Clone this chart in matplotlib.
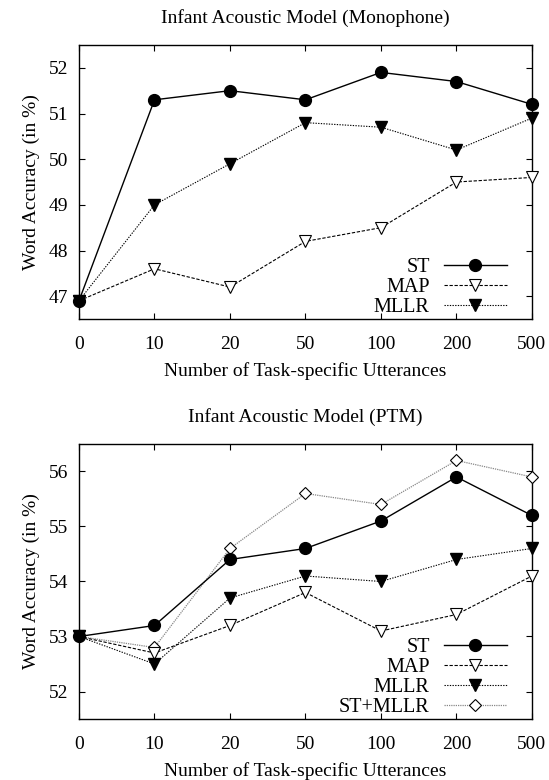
import matplotlib
matplotlib.use('Agg')
import matplotlib.pyplot as plt

plt.rcParams['font.family'] = 'Liberation Serif'

# x categories
x_labels = ['0', '10', '20', '50', '100', '200', '500']

# Monophone
mono_st = [46.9, 51.3, 51.5, 51.3, 51.9, 51.7, 51.2]
mono_map = [46.9, 47.6, 47.2, 48.2, 48.5, 49.5, 49.6]
mono_mllr = [46.9, 49.0, 49.9, 50.8, 50.7, 50.2, 50.9]

# PTM
ptm_st = [53.0, 53.2, 54.4, 54.6, 55.1, 55.9, 55.2]
ptm_map = [53.0, 52.7, 53.2, 53.8, 53.1, 53.4, 54.1]
ptm_mllr = [53.0, 52.5, 53.7, 54.1, 54.0, 54.4, 54.6]
ptm_st_mllr = [53.0, 52.8, 54.6, 55.6, 55.4, 56.2, 55.9]

fig = plt.figure(figsize=(5.49, 7.8), dpi=100)
ax1 = fig.add_axes([0.1439, 0.591, 0.825, 0.3513])
ax2 = fig.add_axes([0.1439, 0.0782, 0.825, 0.3526])

x = list(range(len(x_labels)))


def draw_series(ax, st, mp, ml, stml=None):
    ax.plot(x, st, '-', color='black', lw=1.0, marker='o', ms=8.5, mfc='black',
            label='ST', zorder=5, clip_on=False)
    ax.plot(x, mp, color='black', lw=0.8, ls=(0, (3, 1.5)), marker='v', ms=8, mfc='white', mew=0.8,
            label='MAP', zorder=4, clip_on=False)
    ax.plot(x, ml, color='black', lw=0.8, ls=(0, (1.2, 1.2)), marker='v', ms=8, mfc='black',
            label='MLLR', zorder=4, clip_on=False)
    if stml is not None:
        ax.plot(x, stml, color='#888888', lw=0.9, ls=(0, (1, 0.8)), marker='D', ms=6.5, mfc='white',
                mec='black', mew=0.8, label='ST+MLLR', zorder=3, clip_on=False)


def style(ax, title, ylim, yticks):
    ax.set_xlim(0, 6)
    ax.set_ylim(*ylim)
    ax.set_xticks(x)
    ax.set_xticklabels(x_labels)
    ax.set_yticks(yticks)
    ax.tick_params(direction='in', top=True, right=True, labelsize=14, length=4, width=0.8)
    ax.tick_params(axis='x', pad=12)
    ax.tick_params(axis='y', pad=8)
    ax.set_title(title, fontsize=14, pad=16)
    ax.set_xlabel('Number of Task-specific Utterances', fontsize=14, labelpad=7)
    ax.set_ylabel('Word Accuracy (in %)', fontsize=14, labelpad=6)
    ax.legend(loc='lower right', bbox_to_anchor=(0.962, -0.022), markerfirst=False, frameon=False,
              fontsize=14.5, handlelength=3.1, borderaxespad=0, borderpad=0.4,
              labelspacing=0.05, handletextpad=0.72)
    for s in ax.spines.values():
        s.set_linewidth(1.0)


draw_series(ax1, mono_st, mono_map, mono_mllr)
style(ax1, 'Infant Acoustic Model (Monophone)', (46.5, 52.5), [47, 48, 49, 50, 51, 52])

draw_series(ax2, ptm_st, ptm_map, ptm_mllr, ptm_st_mllr)
style(ax2, 'Infant Acoustic Model (PTM)', (51.5, 56.5), [52, 53, 54, 55, 56])

fig.savefig('out.png', dpi=100)
